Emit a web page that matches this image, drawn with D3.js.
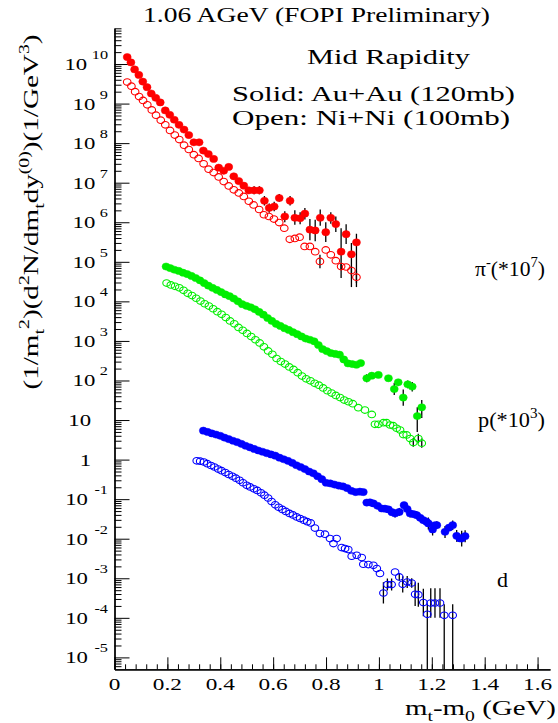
<!DOCTYPE html>
<html><head><meta charset="utf-8">
<script src="https://cdn.jsdelivr.net/npm/d3@7"></script>
<style>
body{margin:0;background:#fff}
svg text{font-family:'Liberation Serif','Times New Roman',Times,serif;font-weight:normal;fill:#000;white-space:pre}
</style>
</head><body>
<svg id="c" width="558" height="723" font-family="Liberation Serif, Times New Roman, serif"></svg>
<script>
// ---------------- data ----------------
const xTickValues = [0,0.2,0.4,0.6,0.8,1.0,1.2,1.4,1.6];
const xTickLabels = ["0","0.2","0.4","0.6","0.8","1","1.2","1.4","1.6"];
const yDecades = [-5,-4,-3,-2,-1,0,1,2,3,4,5,6,7,8,9,10];

// pi- (*10^7), Au+Au (solid)
const piAuX = [0.048,0.062,0.076,0.092,0.107,0.123,0.139,0.156,0.173,0.192,0.209,0.226,0.244,0.263,0.281,0.300,0.320,0.336,0.355,0.375,0.394,0.413,0.432,0.451,0.470,0.489,0.508,0.528,0.548,0.567,0.585,0.604,0.623,0.644,0.664,0.682,0.702,0.720,0.739,0.759,0.778,0.799,0.818,0.837,0.857,0.876,0.896,0.915];
const piAuY = [1.5e10,1.1e10,7.3e9,5.3e9,3.6e9,2.6e9,1.8e9,1.4e9,1.07e9,6.7e8,5.2e8,3.9e8,2.9e8,2.2e8,1.6e8,1.05e8,1.05e8,6.5e7,5.3e7,4.0e7,2.4e7,2.0e7,2.5e7,1.45e7,1.1e7,8.4e6,6.4e6,6.4e6,6.4e6,3.5e6,2.3e6,2.5e6,4.1e6,1.4e6,3.5e6,1.3e6,1.26e6,1.65e6,6.5e5,6.2e5,1.3e6,5.6e5,1.3e6,9e5,1.8e5,5e5,1.55e5,3.1e5];
const piAuErr = [[0.528,5.1e6,8.1e6],[0.548,5.1e6,8.1e6],[0.567,2.65e6,4.6e6],[0.585,1.74e6,3.0e6],[0.604,1.9e6,3.3e6],[0.623,3.3e6,5.2e6],[0.644,1.0e6,1.9e6],[0.664,2.65e6,4.6e6],[0.682,8.6e5,2.0e6],[0.702,8.9e5,1.8e6],[0.720,1.17e6,2.3e6],[0.739,3.5e5,1.2e6],[0.759,3.3e5,1.15e6],[0.778,8.2e5,2.1e6],[0.799,3.15e5,1.0e6],[0.818,9.2e5,1.8e6],[0.837,5.7e5,1.4e6],[0.857,3.9e4,7.1e5],[0.876,2.8e5,8.9e5],[0.896,2.3e4,3.0e5],[0.915,2.3e4,5.1e5]];

// pi- (*10^7), Ni+Ni (open)
const piNiX = [0.048,0.064,0.078,0.093,0.108,0.124,0.141,0.157,0.175,0.192,0.210,0.228,0.245,0.263,0.281,0.300,0.318,0.337,0.356,0.375,0.394,0.413,0.432,0.451,0.470,0.489,0.508,0.526,0.547,0.565,0.584,0.603,0.623,0.642,0.663,0.682,0.700,0.719,0.739,0.759,0.777,0.799,0.818,0.837,0.857,0.876,0.896,0.915];
const piNiY = [3.5e9,2.75e9,2.0e9,1.5e9,1.2e9,9.3e8,6.9e8,5.1e8,3.8e8,2.9e8,2.1e8,1.6e8,1.23e8,8.9e7,6.9e7,5.1e7,4.1e7,3.0e7,2.2e7,1.8e7,1.4e7,1.07e7,8.3e6,6.6e6,5.5e6,4.5e6,3.4e6,2.75e6,2.1e6,1.55e6,1.4e6,1.2e6,9.8e5,7.1e5,3.7e5,3.9e5,4.2e5,2.45e5,2.45e5,1.8e5,1.02e5,2.0e5,1.5e5,1.07e5,7.6e4,7.4e4,6.0e4,4.1e4];
const piNiErr = [[0.777,6.9e4,1.5e5],[0.857,6.3e4,9.1e4],[0.896,4.5e4,7.9e4],[0.915,2.9e4,5.8e4]];

// p (*10^3), Au+Au (solid)
const pAuX = [0.195,0.211,0.227,0.243,0.259,0.275,0.291,0.307,0.323,0.339,0.355,0.371,0.387,0.403,0.419,0.435,0.451,0.467,0.483,0.499,0.515,0.531,0.547,0.563,0.579,0.595,0.611,0.627,0.643,0.659,0.675,0.691,0.707,0.723,0.739,0.755,0.771,0.787,0.803,0.819,0.835,0.851,0.867,0.883,0.899,0.915,0.931,0.954,0.973,0.998,1.036,1.058,1.073,1.092,1.109,1.126,1.145,1.162];
const pAuY = [7.6e4,6.9e4,6.3e4,5.9e4,5.3e4,4.9e4,4.4e4,3.9e4,3.4e4,2.9e4,2.5e4,2.2e4,1.95e4,1.72e4,1.5e4,1.35e4,1.18e4,1.0e4,8.5e3,7.7e3,7.1e3,6.3e3,5.4e3,4.6e3,3.8e3,3.2e3,2.7e3,2.4e3,2.1e3,1.9e3,1.66e3,1.48e3,1.3e3,1.15e3,1.07e3,980,790,620,550,490,470,450,340,270,260,250,275,114,132,138,114,61,90,37,80,70,12.6,21];
const pAuErr = [[0.954,90,144],[1.036,95,137],[1.058,43,86],[1.073,75,108],[1.092,23,59],[1.109,64,100],[1.126,53,92],[1.145,5.0,21],[1.162,11.2,32]];

// p (*10^3), Ni+Ni (open)
const pNiX = [0.197,0.213,0.229,0.245,0.261,0.277,0.293,0.309,0.325,0.341,0.357,0.373,0.389,0.405,0.421,0.437,0.453,0.469,0.485,0.501,0.517,0.533,0.549,0.565,0.581,0.597,0.613,0.629,0.645,0.661,0.677,0.693,0.709,0.725,0.741,0.757,0.773,0.789,0.805,0.821,0.837,0.853,0.869,0.885,0.901,0.922,0.947,0.973,0.985,0.998,1.017,1.029,1.042,1.054,1.067,1.080,1.092,1.105,1.118,1.130,1.149,1.162];
const pNiY = [2.9e4,2.6e4,2.4e4,2.2e4,1.9e4,1.6e4,1.4e4,1.2e4,1.02e4,8.7e3,7.6e3,6.5e3,5.5e3,4.7e3,3.9e3,3.2e3,2.7e3,2.2e3,1.86e3,1.55e3,1.29e3,1.07e3,890,710,560,460,360,300,260,220,190,158,129,110,98,85,76,65,55,48,42,37,32,29,26,20.5,17.9,13.9,7.8,7.8,8.6,8.6,7.5,7.2,6.2,5.6,4.3,4.2,3.4,2.7,3.4,2.6];
const pNiErr = [[1.130,2.1,3.5],[1.149,2.6,4.5],[1.162,2.0,3.4]];

// d, Au+Au (solid)
const dAuX = [0.336,0.352,0.368,0.384,0.400,0.416,0.432,0.448,0.464,0.480,0.496,0.512,0.528,0.544,0.560,0.576,0.592,0.608,0.624,0.640,0.656,0.672,0.688,0.704,0.720,0.736,0.752,0.768,0.784,0.800,0.816,0.832,0.848,0.864,0.880,0.896,0.912,0.928,0.941,0.954,0.966,0.979,0.995,1.011,1.023,1.036,1.049,1.061,1.077,1.095,1.107,1.118,1.131,1.143,1.156,1.168,1.180,1.187,1.203,1.211,1.219,1.250,1.265,1.279,1.294,1.306,1.313,1.326];
const dAuY = [5.4,5.0,4.6,4.3,4.0,3.6,3.3,3.0,2.75,2.5,2.24,2.04,1.86,1.70,1.58,1.45,1.35,1.26,1.12,1.02,0.93,0.83,0.72,0.65,0.575,0.50,0.45,0.38,0.32,0.26,0.25,0.234,0.22,0.21,0.19,0.162,0.151,0.155,0.151,0.082,0.083,0.078,0.068,0.058,0.0575,0.055,0.047,0.0435,0.0476,0.0705,0.056,0.0435,0.0417,0.0394,0.0339,0.0294,0.0269,0.0243,0.0171,0.0219,0.022,0.0149,0.019,0.022,0.0118,0.0102,0.0101,0.0116];
const dAuErr = [[1.061,0.0346,0.0548],[1.077,0.0378,0.060],[1.118,0.0346,0.0548],[1.143,0.0313,0.0496],[1.168,0.0234,0.037],[1.187,0.0172,0.0343],[1.203,0.0121,0.0242],[1.219,0.0175,0.0277],[1.250,0.0105,0.021],[1.279,0.0167,0.029],[1.294,0.0084,0.0167],[1.313,0.0064,0.016],[1.326,0.0082,0.0164]];

// d, Ni+Ni (open)
const dNiX = [0.311,0.324,0.338,0.351,0.365,0.378,0.392,0.405,0.419,0.432,0.446,0.459,0.473,0.486,0.500,0.513,0.527,0.540,0.554,0.567,0.581,0.594,0.608,0.621,0.635,0.648,0.662,0.675,0.689,0.702,0.716,0.729,0.742,0.758,0.777,0.796,0.815,0.828,0.840,0.859,0.872,0.884,0.897,0.916,0.935,0.941,0.960,0.979,0.992,1.004,1.017,1.032,1.048,1.061,1.077,1.090,1.107,1.124,1.137,1.149,1.168,1.183,1.196,1.212,1.231,1.247,1.279];
const dNiY = [0.93,0.91,0.87,0.79,0.71,0.65,0.575,0.525,0.47,0.42,0.38,0.34,0.30,0.26,0.224,0.204,0.182,0.166,0.145,0.126,0.107,0.087,0.072,0.062,0.055,0.049,0.0437,0.040,0.0355,0.0324,0.0295,0.0269,0.0251,0.0186,0.0135,0.013,0.0101,0.00755,0.0101,0.00598,0.00562,0.00533,0.00361,0.00382,0.00334,0.00226,0.00222,0.00213,0.00176,0.00132,4.25e-4,6.93e-4,6.93e-4,1.44e-3,1.08e-3,7.05e-4,8.05e-4,7.6e-4,3.94e-4,3.86e-4,2.43e-4,1.23e-4,2.37e-4,2.37e-4,2.37e-4,1.16e-4,1.16e-4];
const dNiErr = [[1.017,2.3e-4,7.9e-4],[1.032,4.9e-4,9.8e-4],[1.048,4.9e-4,9.8e-4],[1.077,8.6e-4,1.36e-3],[1.090,4.4e-4,1.12e-3],[1.107,5.7e-4,1.14e-3],[1.124,5.8e-4,1.0e-3],[1.137,2.0e-4,7.9e-4],[1.149,1.9e-4,7.7e-4],[1.168,1.09e-4,5.4e-4],[1.183,1e-7,2.3e-4],[1.196,1.0e-4,5.6e-4],[1.212,1.0e-4,5.6e-4],[1.231,1.0e-4,5.6e-4],[1.247,1e-7,2.2e-4],[1.279,1e-7,2.2e-4]];

const seriesColors = {pi:"#ff0000", p:"#00ee00", d:"#0000ff"};

// ---------------- chart ----------------
const FONT = "'Liberation Serif','Times New Roman',serif";
const svg = d3.select("#c");
const x = d3.scaleLinear().domain([0, 1.647]).range([114.5, 550]);
const y = d3.scaleLog().domain([5e-6, 8e10]).range([669.3, 28.3]);
const X0 = x.range()[0], Y0 = y.range()[0], Y1 = y.range()[1], X1 = x.range()[1];

svg.append("defs").append("clipPath").attr("id","clip")
  .append("rect").attr("x",X0).attr("y",Y1).attr("width",X1-X0).attr("height",Y0-Y1);

// y axis ticks
const majors = yDecades.map(e => Math.pow(10, e));
const minors = [];
for (let e = -6; e <= 10; e++) for (let k = 2; k <= 9; k++) {
  const v = k * Math.pow(10, e);
  if (v >= 5e-6 && v <= 8e10) minors.push(v);
}
const gy = svg.append("g").attr("transform", `translate(${X0},0)`);
gy.call(d3.axisRight(y).tickValues(minors).tickSize(7).tickFormat("").tickSizeOuter(0));
gy.append("g").call(d3.axisRight(y).tickValues(majors).tickSize(15).tickFormat("").tickSizeOuter(0));
gy.selectAll("path.domain").attr("stroke","#000").attr("stroke-width",1.3);
gy.selectAll("line").attr("stroke","#000").attr("stroke-width",1);

// x axis ticks
const xMinors = d3.range(0, 41).map(i => +(i*0.04).toFixed(2)).filter(v => v <= 1.647);
const gx = svg.append("g").attr("transform", `translate(0,${Y0})`);
gx.call(d3.axisTop(x).tickValues(xMinors).tickSize(5).tickFormat("").tickSizeOuter(0));
gx.append("g").call(d3.axisTop(x).tickValues(xTickValues).tickSize(12).tickFormat("").tickSizeOuter(0));
gx.selectAll("path.domain").attr("stroke","#000").attr("stroke-width",1.3);
gx.selectAll("line").attr("stroke","#000").attr("stroke-width",1);

// rich text helper
function rich(t, parts, fs) {
  let shift = 0;
  parts.forEach(([s, k]) => {
    const target = k === "sup" ? -0.42*fs : k === "sub" ? 0.28*fs : 0;
    t.append("tspan").attr("dy", target - shift).attr("font-size", k === "n" ? fs : 0.68*fs).text(s);
    shift = target;
  });
  return t;
}
function T() { return svg.append("text").attr("font-family", FONT).attr("font-weight","normal"); }

// x tick labels
xTickValues.forEach((v, i) => {
  T().attr("transform", `translate(${x(v)},690) scale(1.33,1)`)
    .attr("text-anchor","middle").attr("font-size",17.5).text(xTickLabels[i]);
});

// y tick labels
yDecades.forEach(e => {
  const yy = y(Math.pow(10, e)) + 6;
  if (e === 0 || e === 1) {
    T().attr("transform", `translate(91,${yy}) scale(1.3,1)`)
      .attr("text-anchor","end").attr("font-size",17.5).text(e === 0 ? "1" : "10");
  } else {
    const t = T().attr("transform", `translate(108,${yy}) scale(1.3,1)`)
      .attr("text-anchor","end").attr("font-size",17.5);
    t.append("tspan").text("10");
    t.append("tspan").attr("dx", e < 0 ? 5 : 3.5).attr("dy", -11).attr("font-size", 12.5).text(String(e));
  }
});

// data layers
const plot = svg.append("g").attr("clip-path","url(#clip)");
function errBars(arr) {
  plot.append("g").selectAll("line").data(arr).join("line")
    .attr("x1", d => x(d[0])).attr("x2", d => x(d[0]))
    .attr("y1", d => y(Math.max(d[1], 1e-7))).attr("y2", d => y(d[2]))
    .attr("stroke","#000").attr("stroke-width",1.3);
}
function series(xs, ys, color, filled) {
  const pts = xs.map((v, i) => [v, ys[i]]);
  plot.append("g").selectAll("ellipse").data(pts).join("ellipse")
    .attr("cx", d => x(d[0])).attr("cy", d => y(d[1]))
    .attr("rx", filled ? 4 : 3.8).attr("ry", filled ? 3.6 : 3.3)
    .attr("fill", filled ? color : "none")
    .attr("stroke", color).attr("stroke-width", filled ? 0.5 : 1.1);
}
[piAuErr, piNiErr, pAuErr, pNiErr, dAuErr, dNiErr].forEach(errBars);
series(piNiX, piNiY, seriesColors.pi, false);
series(piAuX, piAuY, seriesColors.pi, true);
series(pNiX, pNiY, seriesColors.p, false);
series(pAuX, pAuY, seriesColors.p, true);
series(dNiX, dNiY, seriesColors.d, false);
series(dAuX, dAuY, seriesColors.d, true);

// texts
function label(xp, yp, parts, fs, len, anchor) {
  const t = T().attr("x", xp).attr("y", yp).attr("font-size", fs)
    .attr("text-anchor", anchor || "start");
  rich(t, parts, fs);
  if (len) t.attr("textLength", len).attr("lengthAdjust","spacingAndGlyphs");
  return t;
}
label(143, 21.5, [["1.06 AGeV (FOPI Preliminary)","n"]], 20, 347);
label(307, 64, [["Mid Rapidity","n"]], 21, 163);
label(232, 101, [["Solid: Au+Au (120mb)","n"]], 22, 283);
label(232, 125, [["Open: Ni+Ni (100mb)","n"]], 22, 278);
label(475, 276, [["π","n"],["-","sup"],["(*10","n"],["7","sup"],[")","n"]], 22, 70);
label(478, 427, [["p(*10","n"],["3","sup"],[")","n"]], 22, 67);
label(497, 587, [["d","n"]], 22);
label(556, 715, [["m","n"],["t","sub"],["-m","n"],["0","sub"],[" (GeV)","n"]], 22, 151, "end");

// y title (rotated)
const yt = T().attr("transform","translate(38,212) rotate(-90)")
  .attr("text-anchor","middle").attr("font-size",22);
rich(yt, [["(1/m","n"],["t","sub"],["2","sup"],[")(d","n"],["2","sup"],["N/dm","n"],["t","sub"],["dy","n"],["(0)","sup"],[")(1/GeV","n"],["3","sup"],[")","n"]], 22);
yt.attr("textLength", 355).attr("lengthAdjust","spacingAndGlyphs");
</script>
</body></html>
